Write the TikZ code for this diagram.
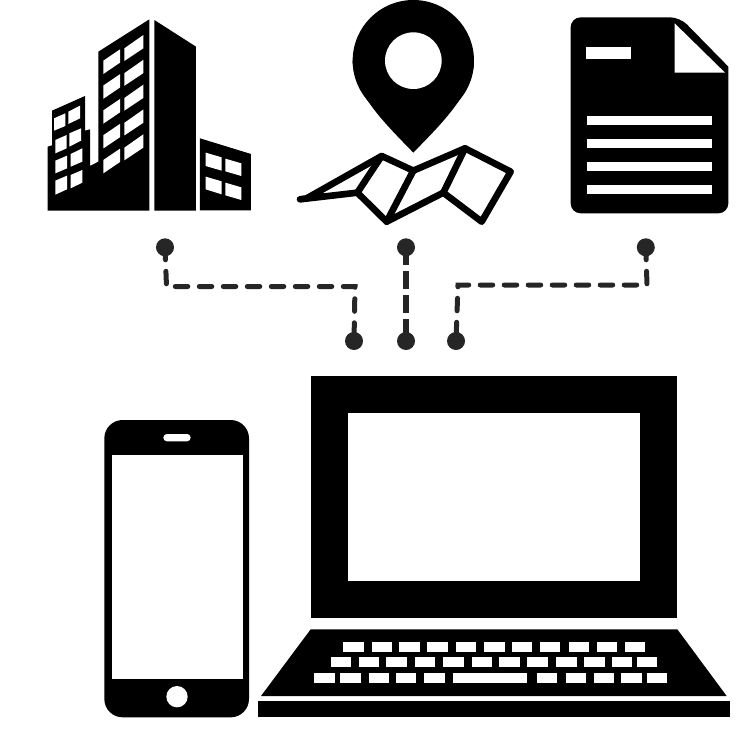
\documentclass[tikz,border=0pt]{standalone}
\tikzset{
  px/.style={x=0.75pt,y=-0.75pt},
  ink/.style={fill=black},
  cut/.style={fill=white},
  fold/.style={draw=black,line width=5pt,line join=round,line cap=round},
  dot/.style={circle,fill=linkgray,draw=none,inner sep=0pt,minimum size=13.5pt},
  linkround/.style={draw=linkgray,line width=3.75pt,line cap=round,dash pattern=on 12.5*0.75pt off 11.5*0.75pt},
  linkbutt/.style={draw=linkgray,line width=4.1pt,dash pattern=on 13.5pt off 4.5pt,dash phase=0pt},
  third/.style={scale=1/3}
}
\definecolor{linkgray}{HTML}{262626}
\begin{document}
\begin{tikzpicture}[px]
\useasboundingbox (0,0) rectangle (741,746);
\fill[white] (0,0) rectangle (741,746);

% building
\begin{scope}[shift={(30,0)},third]
  \fill[ink] (53,632) -- (53,440) -- (66,436) -- (66,332) -- (165,288) -- (165,392) -- (180,388) -- (180,498) -- (205,485) -- (205,155) -- (358,58) -- (358,632) -- cycle;
  \fill[ink] (373,60) -- (498,140) -- (498,632) -- (373,632) -- cycle;
  \fill[ink] (510,415) -- (663,462) -- (663,631) -- (510,631) -- cycle;
  \foreach \r in {0,74.5,149,223.5,298} {
    \fill[cut] (220,{182+\r}) -- (270,{148+\r}) -- (270,{188+\r}) -- (220,{222+\r}) -- cycle;
    \fill[cut] (283,{145+\r}) -- (340,{105+\r}) -- (340,{145+\r}) -- (283,{183+\r}) -- cycle;
  }
  \fill[cut] (72,355) -- (106,340) -- (106,378) -- (72,392) -- cycle;
  \fill[cut] (115,335) -- (150,317) -- (150,355) -- (115,372) -- cycle;
  \fill[cut] (76,420) -- (110,405) -- (110,445) -- (76,460) -- cycle;
  \fill[cut] (118,400) -- (153,385) -- (153,422) -- (118,440) -- cycle;
  \fill[cut] (76,482) -- (111,467) -- (111,505) -- (76,520) -- cycle;
  \fill[cut] (122,462) -- (157,445) -- (157,485) -- (122,500) -- cycle;
  \fill[cut] (76,542) -- (111,527) -- (111,568) -- (76,584) -- cycle;
  \fill[cut] (122,525) -- (157,510) -- (157,548) -- (122,565) -- cycle;
  \fill[cut] (527,458) -- (575,472) -- (575,512) -- (527,498) -- cycle;
  \fill[cut] (586,476) -- (634,490) -- (634,528) -- (586,514) -- cycle;
  \fill[cut] (527,530) -- (575,544) -- (575,583) -- (527,568) -- cycle;
  \fill[cut] (586,548) -- (634,562) -- (634,600) -- (586,586) -- cycle;
\end{scope}

% pin and map
\begin{scope}[shift={(280,0)},third]
  \fill[ink] (400,458) .. controls (330,385) and (218,280) .. (218,182) -- (582,182) .. controls (582,280) and (470,385) .. (400,458) -- cycle;
  \fill[ink] (400,182) circle[radius=182];
  \fill[cut] (400,182) circle[radius=85];
  \draw[fold] (60,598) -- (80,595) -- (305,468) -- (400,512) -- (555,445) -- (692,515) -- (605,665) -- (490,578) -- (320,665) -- (232,578) -- cycle;
  \draw[fold] (305,468) -- (232,578);
  \draw[fold] (400,512) -- (320,665);
  \draw[fold] (555,445) -- (490,578);
\end{scope}

% document
\begin{scope}[shift={(550,0)},third]
  \fill[ink,rounded corners=7.5pt] (62,52) -- (390,52) [sharp corners] -- (535,200) [rounded corners=7.5pt] -- (535,640) -- (62,640) -- cycle;
  \fill[cut] (374,70) -- (374,218) -- (525,218) -- cycle;
  \fill[cut] (108,141) rectangle (242,176);
  \foreach \y in {348,417,486,555} \fill[cut] (112,\y) rectangle (485,\y+28);
\end{scope}

% connectors
\node[dot] (topA) at (165,247.3) {};
\node[dot] (topB) at (406,247.3) {};
\node[dot] (topC) at (645.8,247.3) {};
\node[dot] (botA) at (354,341) {};
\node[dot] (botB) at (406,341) {};
\node[dot] (botC) at (456,341) {};
\coordinate (a1) at (166.5,286.5);
\coordinate (a2) at (355,286.5);
\coordinate (c1) at (647,285);
\coordinate (c2) at (458,285);
\draw[linkround] (topA.center) -- (a1) -- (a2) -- (botA.center);
\draw[linkbutt] (topB.center) -- (botB.center);
\draw[linkround] (topC.center) -- (c1) -- (c2) -- (botC.center);

% laptop
\fill[ink] (311,376) rectangle (677,618);
\fill[cut] (348,413) rectangle (640,581);
\begin{scope}[shift={(250,610)},third]
  \fill[ink] (182,58) -- (1282,58) -- (1430,258) -- (33,258) -- cycle;
  \fill[ink] (24,272) rectangle (1440,320);
  \foreach \x in {280,365,448,532,618,703,785,870,956,1041,1124} \fill[cut] (\x,95) rectangle (\x+61,125);
  \foreach \x in {242,327,409,494,580,665,748,832,919,1003,1086,1161} \fill[cut] (\x,142) rectangle (\x+61,172);
  \foreach \x in {193,271,356,438,523,860,947,1032,1114,1191} \fill[cut] (\x,188) rectangle (\x+61,218);
  \fill[cut] (609,188) rectangle (832,218);
\end{scope}

% phone
\begin{scope}[shift={(90,410)},third]
  \fill[ink,rounded corners=13.75pt] (43,30) rectangle (477,922);
  \fill[cut] (65,134) rectangle (458,808);
  \fill[cut,rounded corners=2.7pt] (220,72) rectangle (302,94);
  \fill[cut] (261,860) circle[radius=32];
\end{scope}
\end{tikzpicture}
\end{document}
